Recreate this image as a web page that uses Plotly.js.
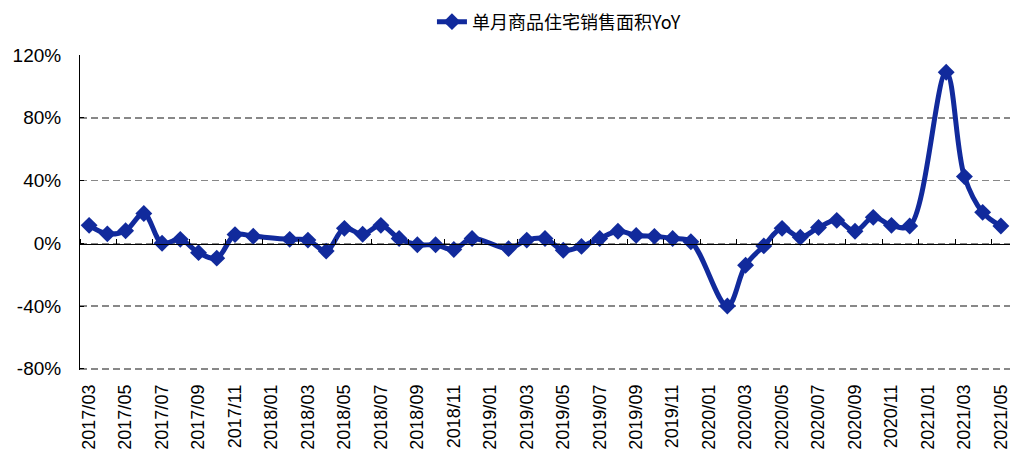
<!DOCTYPE html>
<html>
<head>
<meta charset="utf-8">
<script src="https://cdn.plot.ly/plotly-3.0.1.min.js"></script>
<style>html,body{margin:0;padding:0;background:#fff;}#chart{width:1013px;height:455px;}</style>
</head>
<body>
<div id="chart"></div>
<script>
// Months (categories), 2017/03 .. 2021/05
const months = [
  "2017/03","2017/04","2017/05","2017/06","2017/07","2017/08","2017/09","2017/10","2017/11","2017/12",
  "2018/01","2018/02","2018/03","2018/04","2018/05","2018/06","2018/07","2018/08","2018/09","2018/10","2018/11","2018/12",
  "2019/01","2019/02","2019/03","2019/04","2019/05","2019/06","2019/07","2019/08","2019/09","2019/10","2019/11","2019/12",
  "2020/01","2020/02","2020/03","2020/04","2020/05","2020/06","2020/07","2020/08","2020/09","2020/10","2020/11","2020/12",
  "2021/01","2021/02","2021/03","2021/04","2021/05"
];
// 单月商品住宅销售面积YoY (%), January values not published (null)
const yoy = [
  11.4, 6, 8, 19, 0, 2.5, -6, -9.5, 5.5, 4.5,
  null, 2.5, 2, -5, 9.5, 5.7, 11.4, 3, -1, -1, -4, 3,
  null, -3.4, 2, 3, -4.5, -2, 3, 7.6, 5, 4.4, 3, 1,
  null, -40, -14, -1.7, 9.5, 3.8, 10, 14.6, 7.6, 16.5, 11.4, 11,
  null, 109, 42.5, 19.7, 11
];
const tickLabels = months.filter((m, i) => i % 2 === 0);
const yTicks = [-80, -40, 0, 40, 80, 120];
const seriesName = "单月商品住宅销售面积YoY";

const color = "#112a9c";
const traces = [
  {
    x: months, y: yoy, name: seriesName, type: "scatter", mode: "lines+markers",
    connectgaps: true,
    line: {color: color, width: 5, shape: "spline", smoothing: 1},
    marker: {symbol: "diamond", size: 13, color: color}
  },
  {
    x: months.map((m, i) => i), y: months.map(() => null), xaxis: "x2",
    showlegend: false, hoverinfo: "skip", mode: "lines"
  }
];

const layout = {
  width: 1013, height: 455,
  margin: {l: 80, r: 3, t: 55, b: 85},
  paper_bgcolor: "#fff", plot_bgcolor: "#fff",
  font: {family: "Liberation Sans, Arial, sans-serif", color: "#000"},
  showlegend: true,
  legend: {
    orientation: "h", x: 0.515, xanchor: "center", y: 1.105, yanchor: "middle",
    font: {family: "Noto Sans CJK SC, sans-serif", size: 18, color: "#000"}
  },
  xaxis: {
    type: "category", categoryorder: "array", categoryarray: months,
    range: [-0.5, months.length - 0.5],
    tickmode: "array", tickvals: tickLabels, ticktext: tickLabels,
    tickangle: -90, ticks: "", showgrid: false, showline: false, zeroline: false,
    ticklabelstandoff: 10,
    tickfont: {family: "Liberation Sans, Arial, sans-serif", size: 18, color: "#000"}
  },
  xaxis2: {
    overlaying: "x", anchor: "free", position: 0.4, side: "top",
    type: "linear", range: [-0.5, months.length - 0.5],
    tickmode: "linear", tick0: 1.5, dtick: 2,
    ticks: "outside", ticklen: 5, tickcolor: "#000", tickwidth: 1,
    showticklabels: false, showgrid: false, zeroline: false,
    showline: true, linecolor: "#000", linewidth: 1
  },
  yaxis: {
    range: [-80.8, 120], tickmode: "array", tickvals: yTicks,
    ticktext: yTicks.map(v => v + "%"),
    showgrid: true, gridcolor: "#888", griddash: "7px,4px", gridwidth: 1.5,
    zeroline: false, showline: true, linecolor: "#000", linewidth: 1,
    ticks: "inside", ticklen: 4, tickcolor: "#000",
    ticklabelstandoff: 14,
    tickfont: {family: "Liberation Sans, Arial, sans-serif", size: 19, color: "#000"}
  }
};

Plotly.newPlot("chart", traces, layout, {displayModeBar: false, staticPlot: true});
</script>
</body>
</html>
